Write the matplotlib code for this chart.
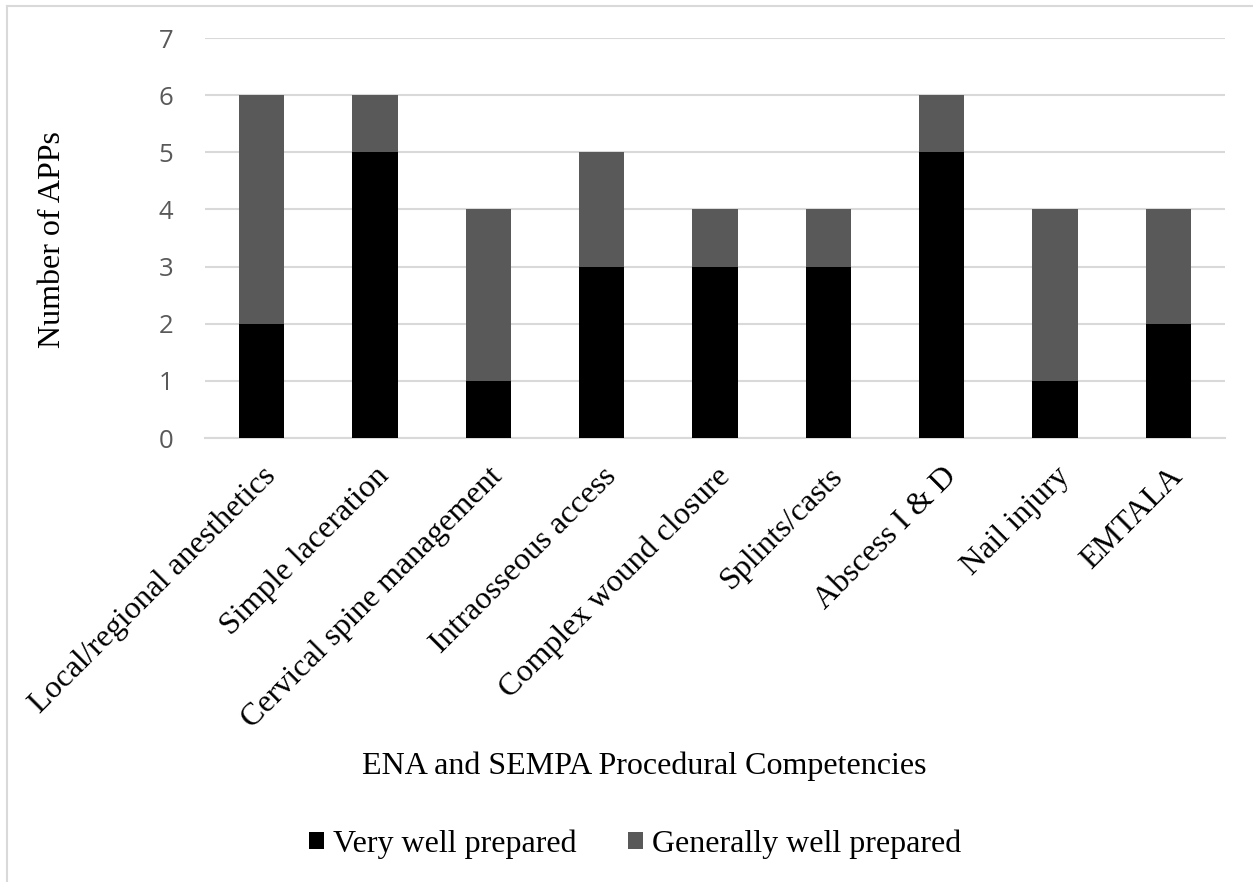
import matplotlib
matplotlib.use("Agg")
import matplotlib.pyplot as plt
from matplotlib.lines import Line2D

categories = ["Local/regional anesthetics", "Simple laceration", "Cervical spine management",
              "Intraosseous access", "Complex wound closure", "Splints/casts",
              "Abscess I & D", "Nail injury", "EMTALA"]
very_well = [2, 5, 1, 3, 3, 3, 5, 1, 2]
generally_well = [4, 1, 3, 2, 1, 1, 1, 3, 2]
series_names = ["Very well prepared", "Generally well prepared"]
yticks = [0, 1, 2, 3, 4, 5, 6, 7]

W, H = 1253, 882
serif = ["Liberation Serif", "DejaVu Serif"]
FS = 23
fig = plt.figure(figsize=(W / 100, H / 100), dpi=100)
ax = fig.add_axes([205 / W, 1 - 438 / H, (1225 - 205) / W, (438 - 38) / H])

x = list(range(len(categories)))
ax.bar(x, very_well, width=0.4, color="#000000", label=series_names[0], zorder=3)
ax.bar(x, generally_well, width=0.4, bottom=very_well, color="#595959", label=series_names[1], zorder=3)

ax.set_xlim(-0.5, len(categories) - 0.5)
ax.set_ylim(0, 7)
ax.set_yticks(yticks)
ax.set_yticklabels([str(t) for t in yticks], fontfamily="Open Sans", fontsize=18.5, color="#595959")
ax.yaxis.grid(True, color="#d9d9d9", linewidth=1.5, zorder=0)
ax.set_axisbelow(True)
for s in ["top", "right", "left"]:
    ax.spines[s].set_visible(False)
ax.spines["bottom"].set_color("#d9d9d9")
ax.spines["bottom"].set_linewidth(1.5)
ax.tick_params(axis="y", length=0, pad=23)
ax.tick_params(axis="x", length=0, pad=17)
ax.set_xticks(x)
ax.set_xticklabels(categories, rotation=45, ha="right", va="top", rotation_mode="anchor",
                   fontfamily=serif, fontsize=FS)

fig.text(53 / W, 1 - 240 / H, "Number of APPs", rotation=90, ha="center", va="center",
         fontfamily=serif, fontsize=FS)
fig.text(644 / W, 1 - 766 / H, "ENA and SEMPA Procedural Competencies", ha="center", va="center",
         fontfamily=serif, fontsize=FS)

fig.legend(loc="center", bbox_to_anchor=(635 / W, 1 - 844 / H), ncol=2, frameon=False,
           prop={"family": serif, "size": FS}, handlelength=0.47, handleheight=0.47,
           handletextpad=0.28, columnspacing=1.6)

# chart-area border (left and top edges visible in the reference)
fig.add_artist(Line2D([7 / W, 7 / W], [0, 1 - 6 / H], transform=fig.transFigure,
                      color="#d9d9d9", linewidth=1.5))
fig.add_artist(Line2D([7 / W, 1], [1 - 6 / H, 1 - 6 / H], transform=fig.transFigure,
                      color="#d9d9d9", linewidth=1.5))

fig.savefig("out.png", dpi=100)
